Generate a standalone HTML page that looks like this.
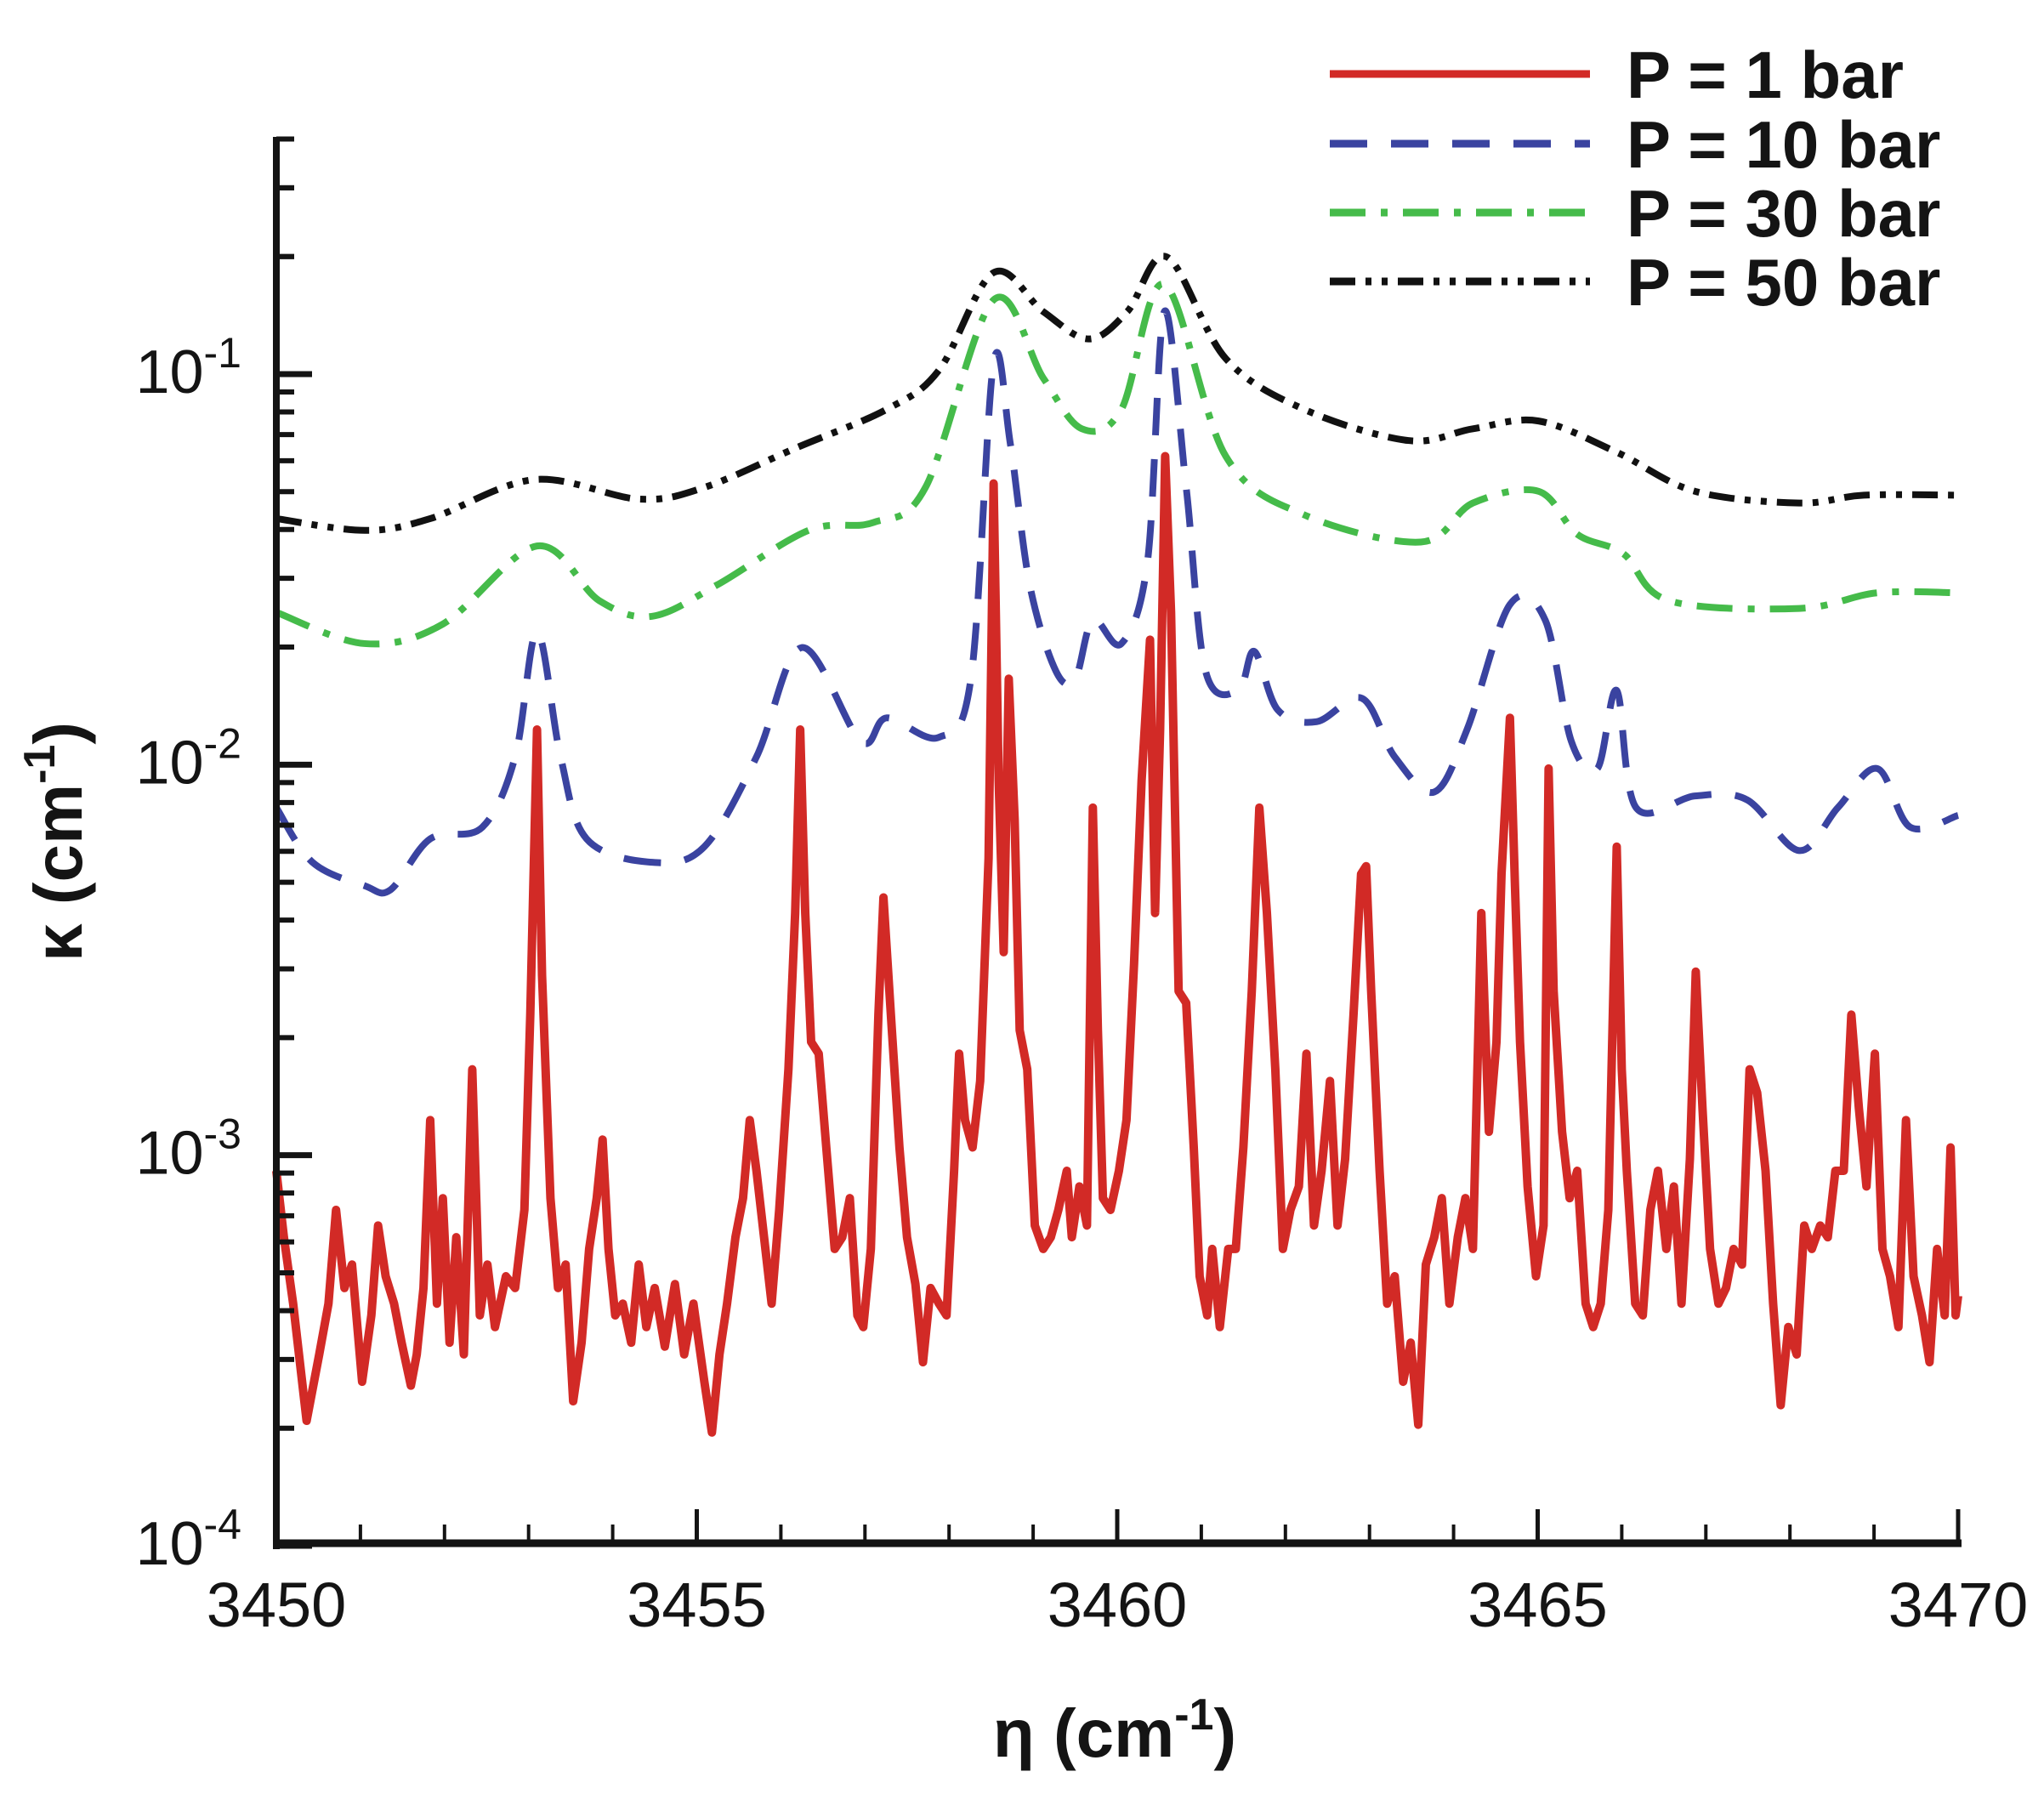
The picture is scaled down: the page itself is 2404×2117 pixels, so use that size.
<!DOCTYPE html>
<html><head><meta charset="utf-8"><style>
html,body{margin:0;padding:0;background:#fff;}
svg{display:block;font-family:"Liberation Sans",Arial,sans-serif;}
</style></head><body>
<svg id="chart" width="2404" height="2117" viewBox="0 0 2404 2117" xmlns="http://www.w3.org/2000/svg">
<g id="plot"></g>
<g id="axes"></g>
<g id="legend"></g>
</svg>
<script>
// x values are offsets (cm^-1) from 3450; y values are log10(kappa)
const ETA0 = 3450;
const xTickLabels = ["3450","3455","3460","3465","3470"];
const yTickExps = [-4,-3,-2,-1];
const seriesNames = ["P = 1 bar","P = 10 bar","P = 30 bar","P = 50 bar"];

const redEta = [0.00,0.09,0.20,0.36,0.51,0.62,0.71,0.81,0.90,1.02,1.13,1.21,1.30,1.40,1.49,1.60,1.67,1.75,1.83,1.91,1.98,2.06,2.14,2.23,2.33,2.42,2.51,2.60,2.73,2.84,2.95,3.02,3.10,3.16,3.26,3.35,3.44,3.53,3.63,3.72,3.81,3.88,3.95,4.03,4.12,4.22,4.31,4.40,4.50,4.62,4.74,4.85,4.96,5.09,5.18,5.27,5.36,5.46,5.55,5.63,5.71,5.80,5.89,5.98,6.09,6.17,6.23,6.29,6.36,6.45,6.54,6.64,6.73,6.82,6.91,6.98,7.07,7.16,7.22,7.32,7.41,7.50,7.60,7.69,7.78,7.88,7.97,8.06,8.12,8.19,8.28,8.37,8.47,8.53,8.59,8.65,8.71,8.78,8.84,8.93,9.02,9.12,9.21,9.30,9.40,9.46,9.55,9.64,9.71,9.77,9.83,9.92,10.02,10.11,10.20,10.29,10.39,10.45,10.51,10.57,10.64,10.73,10.82,10.91,10.98,11.07,11.13,11.22,11.32,11.41,11.50,11.60,11.69,11.78,11.88,11.97,12.06,12.16,12.25,12.34,12.43,12.53,12.62,12.71,12.81,12.90,12.96,13.02,13.12,13.21,13.30,13.40,13.49,13.58,13.67,13.77,13.86,13.95,14.05,14.14,14.23,14.33,14.42,14.51,14.57,14.67,14.73,14.79,14.88,14.98,15.07,15.13,15.19,15.29,15.38,15.47,15.57,15.66,15.75,15.84,15.94,16.00,16.06,16.16,16.25,16.34,16.43,16.53,16.62,16.71,16.81,16.88,16.96,17.05,17.15,17.24,17.33,17.43,17.52,17.61,17.71,17.80,17.89,17.98,18.08,18.17,18.26,18.36,18.45,18.54,18.64,18.73,18.82,18.91,19.01,19.10,19.19,19.29,19.38,19.47,19.57,19.66,19.75,19.84,19.91,19.97,20.00];
const redLogK = [-3.04,-3.21,-3.38,-3.68,-3.51,-3.38,-3.14,-3.34,-3.28,-3.58,-3.41,-3.18,-3.31,-3.38,-3.48,-3.59,-3.51,-3.34,-2.91,-3.38,-3.11,-3.48,-3.21,-3.51,-2.78,-3.41,-3.28,-3.44,-3.31,-3.34,-3.14,-2.64,-1.91,-2.54,-3.11,-3.34,-3.28,-3.63,-3.48,-3.24,-3.11,-2.96,-3.24,-3.41,-3.38,-3.48,-3.28,-3.44,-3.34,-3.49,-3.33,-3.51,-3.38,-3.58,-3.71,-3.51,-3.38,-3.21,-3.11,-2.91,-3.04,-3.21,-3.38,-3.14,-2.78,-2.38,-1.91,-2.38,-2.71,-2.74,-2.98,-3.24,-3.21,-3.11,-3.41,-3.44,-3.24,-2.64,-2.34,-2.68,-2.98,-3.21,-3.33,-3.53,-3.34,-3.38,-3.41,-3.04,-2.74,-2.91,-2.98,-2.81,-2.24,-1.28,-2.04,-2.48,-1.78,-2.14,-2.68,-2.78,-3.18,-3.24,-3.21,-3.14,-3.04,-3.21,-3.08,-3.18,-2.11,-2.68,-3.11,-3.14,-3.04,-2.91,-2.51,-2.04,-1.68,-2.38,-1.91,-1.21,-1.61,-2.58,-2.61,-2.98,-3.31,-3.41,-3.24,-3.44,-3.24,-3.24,-2.98,-2.58,-2.11,-2.38,-2.78,-3.24,-3.14,-3.08,-2.74,-3.18,-3.04,-2.81,-3.18,-3.01,-2.64,-2.28,-2.26,-2.58,-3.04,-3.38,-3.31,-3.58,-3.48,-3.69,-3.28,-3.21,-3.11,-3.38,-3.21,-3.11,-3.24,-2.38,-2.94,-2.71,-2.28,-1.88,-2.31,-2.71,-3.08,-3.31,-3.18,-2.01,-2.58,-2.94,-3.11,-3.04,-3.38,-3.44,-3.38,-3.14,-2.21,-2.78,-3.04,-3.38,-3.41,-3.14,-3.04,-3.24,-3.08,-3.38,-3.01,-2.53,-2.88,-3.24,-3.38,-3.34,-3.24,-3.28,-2.78,-2.84,-3.04,-3.38,-3.64,-3.44,-3.51,-3.18,-3.24,-3.18,-3.21,-3.04,-3.04,-2.64,-2.88,-3.08,-2.74,-3.24,-3.31,-3.44,-2.91,-3.31,-3.41,-3.53,-3.24,-3.41,-2.98,-3.41,-3.36];

const blueEta = [0,0.43,1.05,1.36,1.83,2.45,2.84,3.10,3.38,3.69,4.47,5.09,5.71,6.25,6.95,7.26,7.88,8.26,8.53,8.73,8.96,9.27,9.50,9.71,10.05,10.36,10.56,10.82,11.05,11.44,11.63,11.91,12.37,12.91,13.30,13.77,14.16,14.67,15.09,15.40,15.71,15.94,16.17,16.87,17.49,18.11,18.57,19.04,19.43,20.00];
const blueLogK = [-2.11,-2.25,-2.31,-2.32,-2.19,-2.16,-1.98,-1.66,-1.98,-2.19,-2.25,-2.21,-1.98,-1.70,-1.94,-1.88,-1.93,-1.78,-0.97,-1.18,-1.54,-1.76,-1.78,-1.63,-1.69,-1.48,-0.84,-1.29,-1.76,-1.81,-1.71,-1.86,-1.89,-1.83,-1.98,-2.07,-1.91,-1.59,-1.63,-1.94,-2.01,-1.81,-2.11,-2.08,-2.09,-2.22,-2.11,-2.01,-2.16,-2.13];

const greenEta = [0,1.05,1.98,3.10,3.84,4.47,5.24,6.33,7.10,7.72,8.53,9.12,9.58,10.05,10.56,11.29,12.22,13.61,14.23,15.01,15.47,16.02,16.56,18.11,19.04,20.00];
const greenLogK = [-1.61,-1.69,-1.64,-1.44,-1.58,-1.62,-1.54,-1.40,-1.38,-1.29,-0.81,-1.01,-1.14,-1.09,-0.77,-1.21,-1.36,-1.43,-1.33,-1.30,-1.41,-1.46,-1.58,-1.60,-1.56,-1.56];

const blackEta = [0,1.05,1.83,3.07,4.31,5.09,6.17,7.26,7.88,8.53,9.12,9.66,10.12,10.59,11.29,12.22,13.46,14.23,15.01,15.94,16.87,18.11,18.88,20.00];
const blackLogK = [-1.37,-1.40,-1.37,-1.27,-1.32,-1.29,-1.19,-1.09,-0.99,-0.74,-0.84,-0.91,-0.84,-0.70,-0.96,-1.09,-1.17,-1.14,-1.12,-1.20,-1.30,-1.33,-1.31,-1.31];

const NS = "http://www.w3.org/2000/svg";
const X0 = 325, X1 = 2303, YTOP = 161, YBOT = 1818;
const xScale = eta => X0 + (eta - ETA0) / 20 * (X1 - X0);
const yScale = lg => 440 + (-1 - lg) * (YBOT - 440) / 3;

function mk(tag, attrs, parent) {
  const el = document.createElementNS(NS, tag);
  for (const k in attrs) el.setAttribute(k, attrs[k]);
  parent.appendChild(el);
  return el;
}
function pts(etas, logs) { return etas.map((e, i) => [xScale(ETA0 + e), yScale(logs[i])]); }
function smoothPath(p) {
  let d = "M" + p[0][0] + "," + p[0][1];
  for (let i = 0; i < p.length - 1; i++) {
    const p0 = p[Math.max(0, i - 1)], p1 = p[i], p2 = p[i + 1], p3 = p[Math.min(p.length - 1, i + 2)];
    const c1 = [p1[0] + (p2[0] - p0[0]) / 6, p1[1] + (p2[1] - p0[1]) / 6];
    const c2 = [p2[0] - (p3[0] - p1[0]) / 6, p2[1] - (p3[1] - p1[1]) / 6];
    d += "C" + c1[0] + "," + c1[1] + " " + c2[0] + "," + c2[1] + " " + p2[0] + "," + p2[1];
  }
  return d;
}
const plot = document.getElementById("plot");
const axes = document.getElementById("axes");
const legend = document.getElementById("legend");

const styles = [
  {color:"#d22a26", dash:"none", w:10},
  {color:"#3a43a0", dash:"44 28", w:8},
  {color:"#45bb4a", dash:"42 18 8 18", w:8},
  {color:"#111111", dash:"30 12 7 12 7 12", w:8}
];

const black = mk("path", {d: smoothPath(pts(blackEta, blackLogK)), fill:"none", stroke:styles[3].color, "stroke-width":styles[3].w, "stroke-dasharray":styles[3].dash}, plot);


const green = mk("path", {d: smoothPath(pts(greenEta, greenLogK)), fill:"none", stroke:styles[2].color, "stroke-width":styles[2].w, "stroke-dasharray":styles[2].dash}, plot);


const blue = mk("path", {d: smoothPath(pts(blueEta, blueLogK)), fill:"none", stroke:styles[1].color, "stroke-width":styles[1].w, "stroke-dasharray":styles[1].dash}, plot);


const red = mk("polyline", {points: pts(redEta, redLogK).map(p => p.join(",")).join(" "), fill:"none", stroke:styles[0].color, "stroke-width":styles[0].w, "stroke-linejoin":"round"}, plot);



const yAxis = mk("line", {x1:X0, y1:YTOP, x2:X0, y2:YBOT+4, stroke:"#141414", "stroke-width":8}, axes);


const xAxis = mk("line", {x1:X0-4, y1:YBOT-3, x2:X1+4, y2:YBOT-3, stroke:"#141414", "stroke-width":9}, axes);



for (let v = 0; v <= 20; v++) {
  const x = xScale(ETA0 + v);
  const major = v % 5 === 0;
  const t = mk("line", {x1:x, y1:YBOT-3, x2:x, y2:YBOT-3-(major?40:22), stroke:"#141414", "stroke-width":major?5:4}, axes);
  
  
}
xTickLabels.forEach((lab, i) => {
  const t = mk("text", {x: xScale(ETA0 + i*5), y: 1913, "font-size":74, "text-anchor":"middle", fill:"#141414"}, axes);
  t.textContent = lab;
  
  
});
for (let dec = -4; dec <= -1; dec++) {
  for (let m = 1; m <= 9; m++) {
    const lg = dec + Math.log10(m);
    if (lg > -0.39) break;
    const y = yScale(lg);
    const major = m === 1;
    const t = mk("line", {x1:X0, y1:y, x2:X0+(major?42:21), y2:y, stroke:"#141414", "stroke-width":major?7:6}, axes);
    
    
  }
}
for (let m = 2; m <= 4; m++) {
  const y = yScale(Math.log10(m) - 1);
  const t = mk("line", {x1:X0, y1:y, x2:X0+21, y2:y, stroke:"#141414", "stroke-width":6}, axes);
  
  
}
yTickExps.forEach(e => {
  const t = mk("text", {x: 284, y: yScale(e) + 22, "font-size":72, "text-anchor":"end", fill:"#141414"}, axes);
  const a = mk("tspan", {}, t); a.textContent = "10";
  const b = mk("tspan", {dy:-30, "font-size":50}, t); b.textContent = String(e);
  
  
});
const xt = mk("text", {x:1311, y:2066, "font-size":80, "font-weight":"bold", "text-anchor":"middle", fill:"#141414"}, axes);
xt.innerHTML = '<tspan>η (cm</tspan><tspan dy="-32" font-size="52">-1</tspan><tspan dy="32">)</tspan>';


const yt = mk("text", {x:0, y:0, "font-size":80, "font-weight":"bold", "text-anchor":"middle", fill:"#141414", transform:"translate(96,990) rotate(-90)"}, axes);
yt.innerHTML = '<tspan>κ (cm</tspan><tspan dy="-32" font-size="52">-1</tspan><tspan dy="32">)</tspan>';



const legY = [87, 169, 250, 331];
seriesNames.forEach((nm, i) => {
  const l = mk("line", {x1:1564, y1:legY[i], x2:1870, y2:legY[i], stroke:styles[i].color, "stroke-width":9, "stroke-dasharray":styles[i].dash}, legend);
  
  
  const t = mk("text", {x:1913, y:legY[i]+28, "font-size":78, "font-weight":"bold", fill:"#141414"}, legend);
  t.textContent = nm;
  
  
});
</script>
</body></html>
